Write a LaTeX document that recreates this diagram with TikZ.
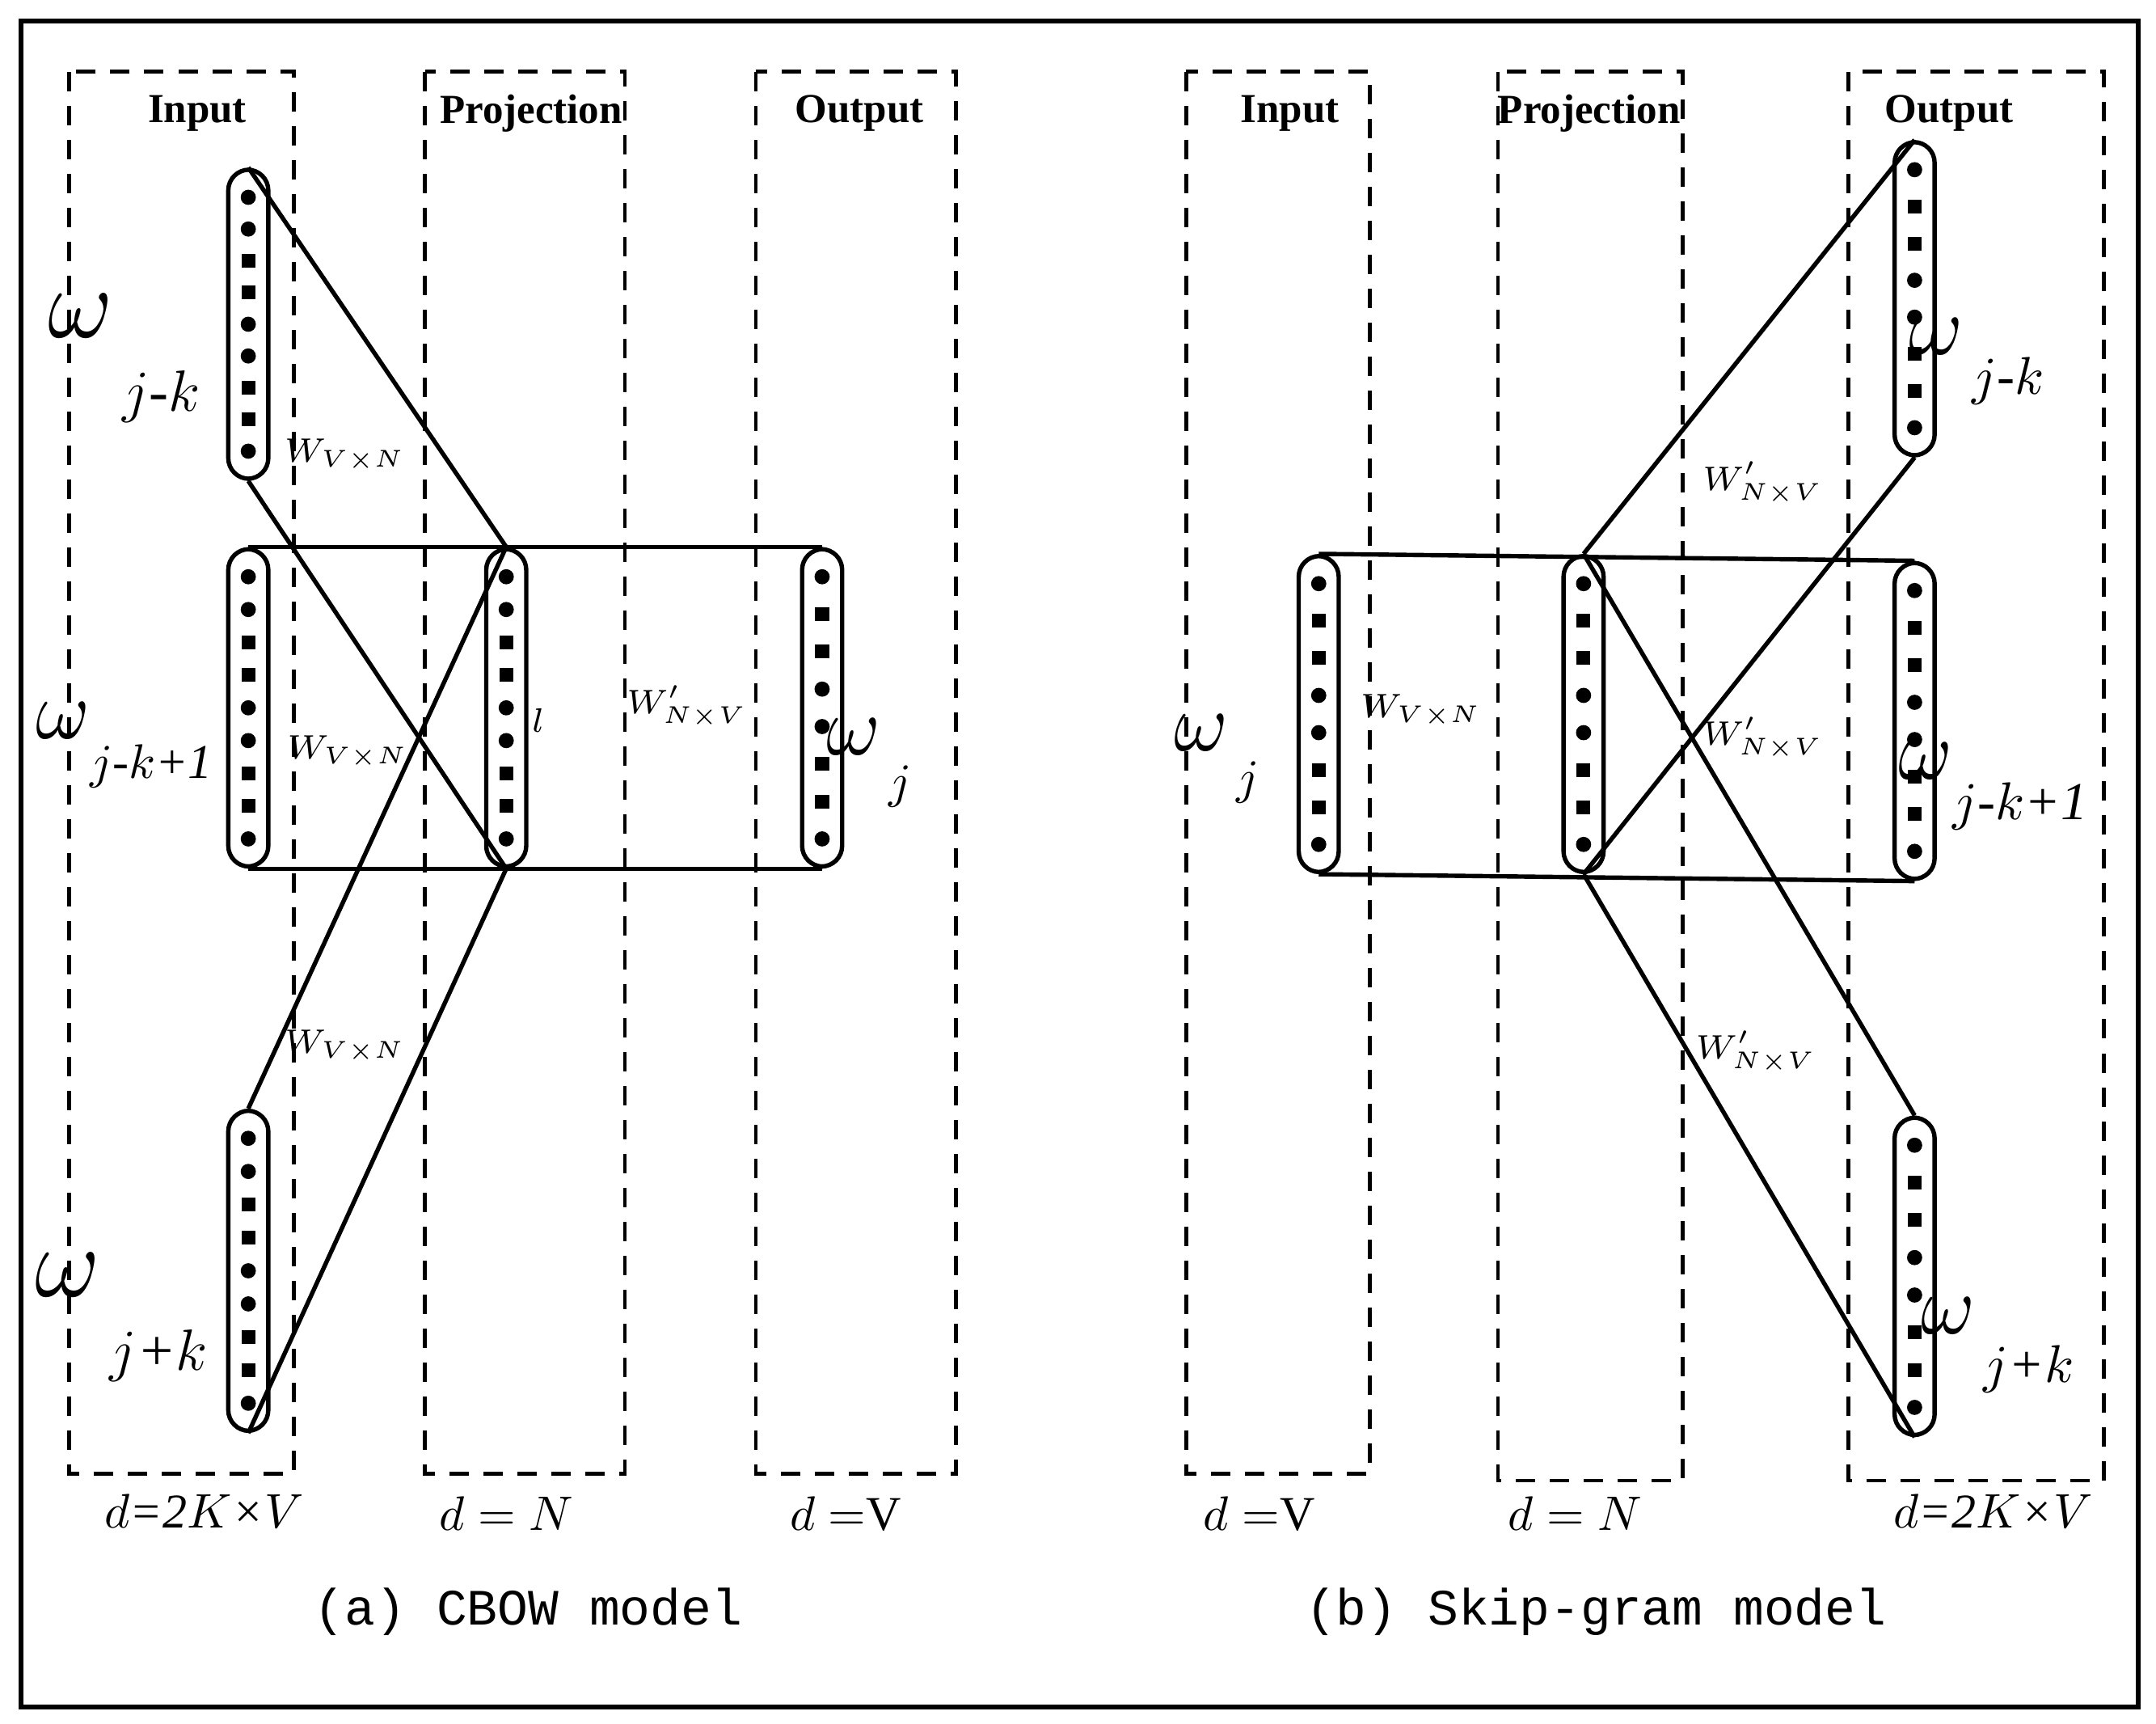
\documentclass[tikz,border=0pt]{standalone}
\usepackage{fontspec}
\setmainfont{Liberation Serif}
\setmonofont{Liberation Mono}
\tikzset{
 pill/.style={draw,line width=0.9pt,rounded corners=0.15cm,minimum width=0.29cm,inner sep=0pt},
 dbox/.style={draw,line width=0.8pt,dash pattern=on 4pt off 3pt},
 conn/.style={line width=0.9pt},
 head/.style={font=\bfseries\fontsize{8.5}{9}\selectfont},
 om/.style={font=\fontsize{9}{10}\selectfont\itshape,anchor=center},
 wl/.style={font=\fontsize{7}{8}\selectfont\itshape},
 dl/.style={font=\fontsize{10}{11}\selectfont\itshape},
 captxt/.style={font=\ttfamily\fontsize{10.5}{12}\selectfont},
}
\newcommand{\pillvec}[5]{% name, x, ytop, ybot, pattern
 \node[pill,minimum height={(#4-#3)*0.01cm}] (#1) at (#2,{(#3+#4)/2}) {};
 \foreach \t [count=\i] in {#5} {\global\let\nn\i}
 \pgfmathsetmacro\stp{(#4-#3-40)/(\nn-1)}
 \foreach \t [count=\i] in {#5} {
   \pgfmathsetmacro\yy{#3+20+(\i-1)*\stp}
   \if\t D \fill (#2,\yy) circle (0.055cm);
   \else \fill (#2-5,\yy-5) rectangle (#2+5,\yy+5); \fi
 }
}
\begin{document}
\begin{tikzpicture}[x=0.01cm,y=-0.01cm]
\useasboundingbox (0,0) rectangle (1563,1249);
\draw[line width=1pt] (15,15) rectangle (1550,1237);
% CBOW
\draw[dbox] (50,52) rectangle (213,1068);
\draw[dbox] (308,52) rectangle (453,1068);
\draw[dbox] (548,52) rectangle (693,1068);
\node[head] (h1) at (143,82) {Input};
\node[head] (h2) at (385,82) {Projection};
\node[head] (h3) at (623,82) {Output};
\pillvec{a1}{180}{123}{347}{D,D,S,S,D,D,S,S,D}
\pillvec{a2}{180}{398}{628}{D,D,S,S,D,D,S,S,D}
\pillvec{a3}{180}{805}{1037}{D,D,S,S,D,D,S,S,D}
\pillvec{ap}{367}{398}{628}{D,D,S,S,D,D,S,S,D}
\pillvec{ao}{596}{398}{628}{D,S,S,D,D,S,S,D}
\draw[conn] (a1.north) -- (ap.north);
\draw[conn] (a1.south) -- (ap.south);
\draw[conn] (a3.north) -- (ap.north);
\draw[conn] (a3.south) -- (ap.south);
\draw[conn] (a2.north) -- (ao.north);
\draw[conn] (a2.south) -- (ao.south);
\node[om] (l1) at (90,260) {\fontsize{22}{22}\selectfont$\omega$\raisebox{-1.5ex}{\fontsize{12}{12}\selectfont\,$j$-$k$}};
\node[om] (l2) at (90,540) {\fontsize{18}{18}\selectfont$\omega$\raisebox{-1ex}{\fontsize{10}{10}\selectfont$j$-$k$+1}};
\node[om] (l3) at (88,955) {\fontsize{22}{22}\selectfont$\omega$\raisebox{-1.5ex}{\fontsize{12}{12}\selectfont\,$j$+$k$}};
\node[wl] (w1) at (250,330) {$W_{V\times N}$};
\node[wl] (w2) at (252,545) {$W_{V\times N}$};
\node[wl] (w3) at (250,758) {$W_{V\times N}$};
\node[wl] (ll) at (390,522) {$l$};
\node[wl] (w4) at (498,512) {$W'_{N\times V}$};
\node[om] (l4) at (630,553) {\fontsize{16}{16}\selectfont$\omega$\raisebox{-1.2ex}{\fontsize{10}{10}\selectfont\,$j$}};
\node[dl] (d1) at (148,1095) {$d$=2$K$×$V$};
\node[dl] (d2) at (367,1097) {$d=N$};
\node[dl] (d3) at (613,1097) {$d=$\textup{V}};
\node[captxt] (c1) at (383,1168) {(a) CBOW model};
% Skip-gram
\draw[dbox] (860,52) rectangle (993,1068);
\draw[dbox] (1086,52) rectangle (1220,1073);
\draw[dbox] (1340,52) rectangle (1525,1073);
\node[head] (h4) at (935,82) {Input};
\node[head] (h5) at (1152,82) {Projection};
\node[head] (h6) at (1413,82) {Output};
\pillvec{bi}{956}{403}{632}{D,S,S,D,D,S,S,D}
\pillvec{bp}{1148}{403}{632}{D,S,S,D,D,S,S,D}
\pillvec{b1}{1388}{103}{330}{D,S,S,D,D,S,S,D}
\pillvec{b2}{1388}{408}{637}{D,S,S,D,D,S,S,D}
\pillvec{b3}{1388}{810}{1040}{D,S,S,D,D,S,S,D}
\draw[conn] (bi.north) -- (b2.north);
\draw[conn] (bi.south) -- (b2.south);
\draw[conn] (bp.north) -- (b1.north);
\draw[conn] (bp.south) -- (b1.south);
\draw[conn] (bp.north) -- (b3.north);
\draw[conn] (bp.south) -- (b3.south);
\node[om] (l5) at (1433,262) {\fontsize{18}{18}\selectfont$\omega$\raisebox{-1ex}{\fontsize{11}{11}\selectfont\,$j$-$k$}};
\node[om] (l6) at (1445,570) {\fontsize{18}{18}\selectfont$\omega$\raisebox{-1ex}{\fontsize{11}{11}\selectfont$j$-$k$+1}};
\node[om] (l7) at (1448,975) {\fontsize{18}{18}\selectfont$\omega$\raisebox{-1.2ex}{\fontsize{11}{11}\selectfont\,$j$+$k$}};
\node[om] (l8) at (882,550) {\fontsize{16}{16}\selectfont$\omega$\raisebox{-1.2ex}{\fontsize{10}{10}\selectfont\,$j$}};
\node[wl] (w5) at (1030,515) {$W_{V\times N}$};
\node[wl] (w6) at (1278,350) {$W'_{N\times V}$};
\node[wl] (w7) at (1278,535) {$W'_{N\times V}$};
\node[wl] (w8) at (1273,762) {$W'_{N\times V}$};
\node[dl] (d4) at (913,1097) {$d=$\textup{V}};
\node[dl] (d5) at (1142,1097) {$d=N$};
\node[dl] (d6) at (1445,1095) {$d$=2$K$×$V$};
\node[captxt] (c2) at (1157,1168) {(b) Skip-gram model};
\end{tikzpicture}
\end{document}
